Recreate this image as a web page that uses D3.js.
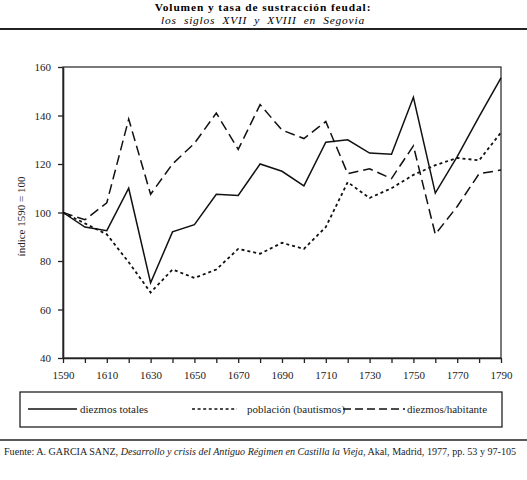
<!DOCTYPE html>
<html>
<head>
<meta charset="utf-8">
<script src="https://cdn.jsdelivr.net/npm/d3@7"></script>
<style>
  body { margin: 0; background: #fff; }
  svg { display: block; font-family: "Liberation Serif", "DejaVu Serif", serif; }
</style>
</head>
<body>
<div id="chart"></div>
<script>
// Data (index 1590 = 100)
const years = [1590, 1600, 1610, 1620, 1630, 1640, 1650, 1660, 1670, 1680, 1690,
               1700, 1710, 1720, 1730, 1740, 1750, 1760, 1770, 1780, 1790];
const diezmosTotales = [100, 94, 92.5, 110, 71, 92, 95, 107.5, 107, 120, 117,
                        111, 129, 130, 124.5, 124, 147.5, 108, 123, 139.5, 155.5];
const poblacion = [100, 95.5, 91, 79.5, 67, 76.5, 73, 76.5, 85, 83, 87.5,
                   85, 94, 112.5, 106, 110, 115.5, 119.5, 122.5, 121.5, 133];
const diezmosHabitante = [100, 97, 104, 138.5, 107.5, 120, 128.5, 141, 126, 144.5, 134,
                          130.5, 137.5, 116, 118, 114, 127.5, 91, 102.5, 116, 117.5];
const yTicks = [40, 60, 80, 100, 120, 140, 160];
const xTicks = d3.range(1590, 1791, 10);

const series = [
  {name: "diezmos totales", values: diezmosTotales, dash: null},
  {name: "población (bautismos)", values: poblacion, dash: "3,3"},
  {name: "diezmos/habitante", values: diezmosHabitante, dash: "10,5"}
];

const W = 527, H = 480;
const svg = d3.select("#chart").append("svg")
    .attr("width", W).attr("height", H);
svg.append("rect").attr("width", W).attr("height", H).attr("fill", "#fff");

// Title
svg.append("text")
    .attr("x", 263).attr("y", 11)
    .attr("text-anchor", "middle")
    .attr("font-size", 11.4).attr("font-weight", "bold")
    .attr("letter-spacing", 0.9)
    .text("Volumen y tasa de sustracción feudal:");
svg.append("text")
    .attr("x", 263).attr("y", 24)
    .attr("text-anchor", "middle")
    .attr("font-size", 11.4).attr("font-style", "italic")
    .attr("letter-spacing", 0.8).attr("word-spacing", 3.5)
    .text("los siglos XVII y XVIII en Segovia");
svg.append("line")
    .attr("x1", 0).attr("x2", W).attr("y1", 29).attr("y2", 29)
    .attr("stroke", "#222").attr("stroke-width", 2);

// Scales
const x = d3.scaleLinear().domain([1590, 1790]).range([63, 501]);
const y = d3.scaleLinear().domain([40, 160]).range([358, 67]);

// Frame (top and right)
svg.append("rect")
    .attr("x", x(1590)).attr("y", y(160))
    .attr("width", x(1790) - x(1590)).attr("height", y(40) - y(160))
    .attr("fill", "none").attr("stroke", "#222").attr("stroke-width", 1.2);

// Axes
const xAxis = svg.append("g")
    .attr("transform", `translate(0,${y(40)})`)
    .call(d3.axisBottom(x)
        .tickValues(xTicks)
        .tickFormat(d => (d - 1590) % 20 === 0 ? d : "")
        .tickSize(5).tickSizeOuter(0).tickPadding(8));
const yAxis = svg.append("g")
    .attr("transform", `translate(${x(1590)},0)`)
    .call(d3.axisLeft(y)
        .tickValues(yTicks)
        .tickSize(5).tickSizeOuter(0).tickPadding(7));

[xAxis, yAxis].forEach(g => {
  g.selectAll("path").attr("stroke", "#222").attr("stroke-width", 1.6);
  g.selectAll("line").attr("stroke", "#222").attr("stroke-width", 1.3);
  g.selectAll("text").attr("font-family", "Liberation Serif, serif")
      .attr("font-size", 11).attr("fill", "#222");
});

svg.append("text")
    .attr("transform", `translate(25,${(y(40) + y(160)) / 2 + 4}) rotate(-90)`)
    .attr("text-anchor", "middle")
    .attr("font-size", 11).attr("fill", "#222")
    .text("índice 1590 = 100");

// Lines
const line = d3.line()
    .x((d, i) => x(years[i]))
    .y(d => y(d));

svg.append("g").selectAll("path")
  .data(series)
  .join("path")
    .attr("d", d => line(d.values))
    .attr("fill", "none")
    .attr("stroke", "#111")
    .attr("stroke-width", d => d.dash === "3,3" ? 1.8 : 1.5)
    .attr("stroke-dasharray", d => d.dash);

// Legend
svg.append("rect")
    .attr("x", 20).attr("y", 392).attr("width", 482).attr("height", 35)
    .attr("fill", "none").attr("stroke", "#222").attr("stroke-width", 1.3);

const legendPos = [
  {x1: 28, x2: 77, tx: 80},
  {x1: 192, x2: 237, tx: 247},
  {x1: 343, x2: 405, tx: 407}
];
const lg = svg.append("g").selectAll("g")
  .data(series)
  .join("g");
lg.append("line")
    .attr("x1", (d, i) => legendPos[i].x1).attr("x2", (d, i) => legendPos[i].x2)
    .attr("y1", 409).attr("y2", 409)
    .attr("stroke", "#111")
    .attr("stroke-width", d => d.dash === "3,3" ? 1.4 : 1.3)
    .attr("stroke-dasharray", d => d.dash === "3,3" ? "3,2.6" : d.dash ? "8,4" : null);
lg.append("text")
    .attr("x", (d, i) => legendPos[i].tx).attr("y", 413)
    .attr("font-size", 11).attr("fill", "#222")
    .text(d => d.name);

// Source
svg.append("line")
    .attr("x1", 0).attr("x2", W).attr("y1", 440).attr("y2", 440)
    .attr("stroke", "#222").attr("stroke-width", 1.6);
const src = svg.append("text")
    .attr("x", 4).attr("y", 455)
    .attr("font-size", 10.1).attr("fill", "#222");
src.append("tspan").text("Fuente: A. GARCIA SANZ, ");
src.append("tspan").attr("font-style", "italic")
    .text("Desarrollo y crisis del Antiguo Régimen en Castilla la Vieja");
src.append("tspan").text(", Akal, Madrid, 1977, pp. 53 y 97-105");
</script>
</body>
</html>
